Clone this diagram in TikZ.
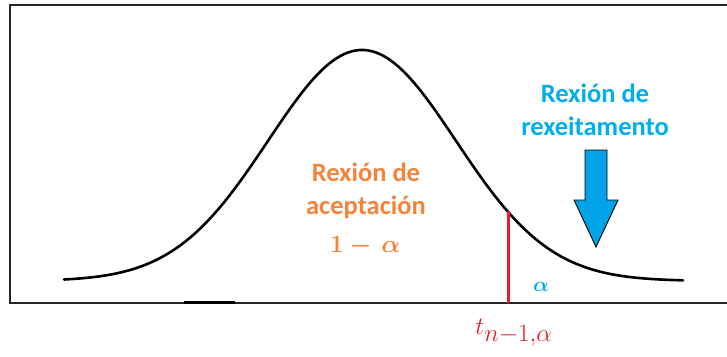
\documentclass[tikz,border=0pt]{standalone}
\usepackage{amsmath}
\usepackage{bm}
\usepackage{fontspec}
\usepackage{tikz}
\usetikzlibrary{positioning}
\newfontfamily\labelfont{Carlito}
\definecolor{acceptorange}{HTML}{F5843A}
\definecolor{rejectblue}{HTML}{00AEEF}
\definecolor{arrowblue}{HTML}{00A3E8}
\definecolor{critred}{HTML}{EC1C24}

\begin{document}
\begin{tikzpicture}[x=1pt, y=-1pt,
  frame/.style={line width=1.8pt, color=black!85},
  density/.style={line width=2.6pt, color=black},
  critline/.style={line width=3pt, color=critred},
  region/.style={font=\labelfont\bfseries\fontsize{26.5}{33}\selectfont, align=center},
  rejarrow/.style={fill=arrowblue, draw=black, line width=0.9pt, line join=miter}
]
  \useasboundingbox (0,0) rectangle (727,356);

  % frame, open on the right
  \draw[frame] (727,5) -- (10,5) -- (10,303) -- (727,303);
  \draw[line width=2.6pt] (184,302.5) -- (235,302.5);

  % density curve
  \draw[density, line cap=round, smooth] plot[domain=64:683, samples=160]
    (\x, {281-231*exp(-0.5*((\x-362)/94)^2)});

  % critical value
  \coordinate (crittop) at (508,211);
  \coordinate (critbot) at (508,303);
  \draw[critline] (crittop) -- (critbot);

  \node[region, text=acceptorange] (accept) at (366,191) {Rexión de\\aceptación};
  \node[text=acceptorange, font=\fontsize{25}{28}\selectfont] (conf) at (365,246)
    {$\bm{1 -\,\alpha}$};

  \node[region, text=rejectblue] (reject) at (595,110) {Rexión de\\rexeitamento};
  \draw[rejarrow] (585,150) -- (607,150) -- (607,200) -- (618,200) -- (596,247)
    -- (574,200) -- (585,200) -- cycle;

  \node[text=rejectblue, font=\fontsize{22}{24}\selectfont] (tail) at (541,287) {$\bm{\alpha}$};
  \node[text=critred, font=\fontsize{34}{36}\selectfont] (tcrit) at (514,333) {$t_{n-1,\alpha}$};
\end{tikzpicture}
\end{document}
